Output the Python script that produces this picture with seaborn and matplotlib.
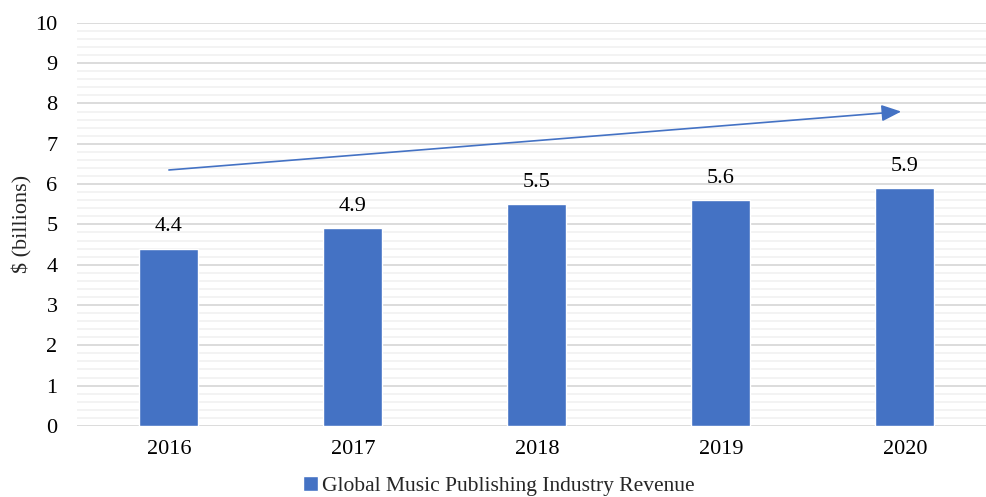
import matplotlib
matplotlib.use("Agg")
import matplotlib.pyplot as plt
import seaborn as sns
import pandas as pd
import numpy as np

years = ["2016", "2017", "2018", "2019", "2020"]
revenue = [4.4, 4.9, 5.5, 5.6, 5.9]
series_name = "Global Music Publishing Industry Revenue"
y_ticks = list(range(0, 11))

sns.set_theme(style="white")
plt.rcParams['font.family'] = ['Liberation Serif', 'DejaVu Serif']

df = pd.DataFrame({"Year": years, "Revenue": revenue, "Series": series_name})

fig = plt.figure(figsize=(9.86, 4.97), dpi=100)
ax = fig.add_axes([0.078, 0.143, 0.933, 0.811])

sns.barplot(data=df, x="Year", y="Revenue", hue="Series", palette=["#4472C4"],
            width=0.32, ax=ax, saturation=1, zorder=3)

ax.set_ylim(0, 10)
ax.set_xlim(-0.5, 4.5)
ax.set_yticks(y_ticks)
ax.set_yticks(np.arange(0, 10.01, 0.2), minor=True)
ax.grid(which="major", axis="y", color="#d9d9d9", linewidth=1.3, zorder=0)
ax.grid(which="minor", axis="y", color="#f2f2f2", linewidth=1.3, zorder=0)
ax.set_axisbelow(True)
for s in ax.spines.values():
    s.set_visible(False)
ax.tick_params(axis="both", which="both", length=0, labelsize=16, colors="black")
ax.tick_params(axis="x", pad=10)
ax.tick_params(axis="y", pad=14)
ax.set_xlabel("")
ax.set_ylabel("$ (billions)", fontsize=16, labelpad=2)

for i, v in enumerate(revenue):
    ax.text(i, v + 0.3, f"{v}", ha="center", va="bottom", fontsize=16, color="black")

ax.annotate("", xy=(3.98, 7.8), xytext=(0.0, 6.35),
            arrowprops=dict(arrowstyle="-|>,head_length=1.0,head_width=0.42",
                            color="#4472C4", lw=1.2, shrinkA=0, shrinkB=0), zorder=5)

ax.get_legend().remove()
handles, labels = ax.get_legend_handles_labels()
fig.legend(handles, labels, loc="center", bbox_to_anchor=(0.506, 0.022), frameon=False,
           fontsize=15.5, handlelength=0.7, handleheight=0.7, handletextpad=0.2)

fig.savefig("out.png", dpi=100)
